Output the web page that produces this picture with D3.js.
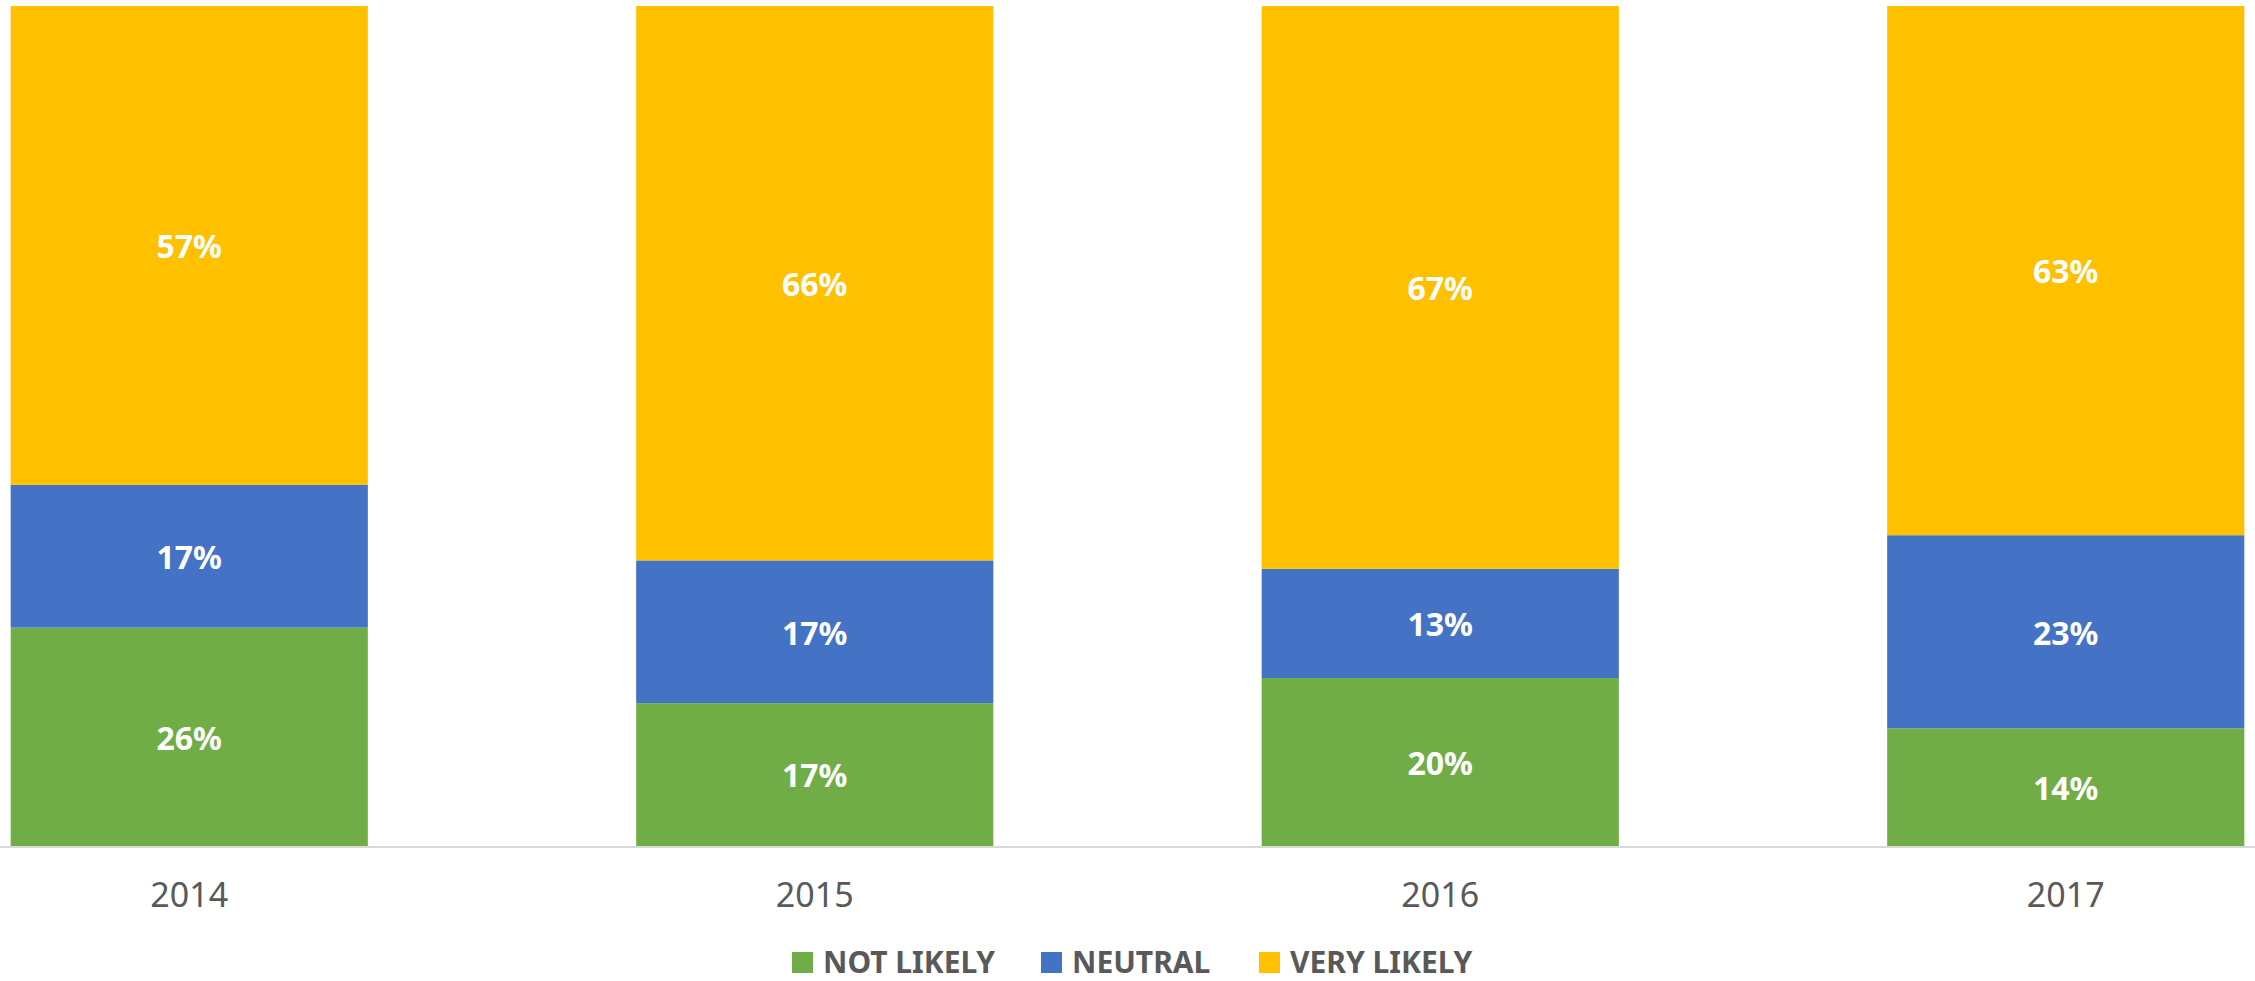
<!DOCTYPE html>
<html>
<head>
<meta charset="utf-8">
<script src="https://cdn.jsdelivr.net/npm/d3@7"></script>
<style>
  body { margin: 0; background: #fff; }
  svg { display: block; font-family: 'Noto Sans', sans-serif; }
</style>
</head>
<body>
<script>
var years = ['2014', '2015', '2016', '2017']
var seriesNames = ['NOT LIKELY', 'NEUTRAL', 'VERY LIKELY']
var notLikely = [26, 17, 20, 14]
var neutral = [17, 17, 13, 23]
var veryLikely = [57, 66, 67, 63]
var colors = ['#70AD47', '#4472C4', '#FFC000']

var width = 2255, height = 981

var rows = years.map(function(y, i){
  return {year: y, 'NOT LIKELY': notLikely[i], 'NEUTRAL': neutral[i], 'VERY LIKELY': veryLikely[i]}
})
var stacked = d3.stack().keys(seriesNames)(rows)

var svg = d3.select('body').append('svg')
  .attr('width', width).attr('height', height)

// band layout like excel: half gap on the outside of each category
var gap = 0.429
var x = d3.scaleBand().domain(years)
  .range([-123.5, 2378.5])
  .paddingInner(gap).paddingOuter(gap / 2)
var y = d3.scaleLinear().domain([0, 100]).range([846, 6])

var layers = svg.append('g').selectAll('g')
  .data(stacked).join('g')
    .attr('fill', function(d, i){ return colors[i] })

layers.selectAll('rect')
  .data(function(d){ return d }).join('rect')
    .attr('x', function(d){ return x(d.data.year) })
    .attr('width', x.bandwidth())
    .attr('y', function(d){ return y(d[1]) })
    .attr('height', function(d){ return y(d[0]) - y(d[1]) })

layers.selectAll('text')
  .data(function(d){ return d }).join('text')
    .attr('x', function(d){ return x(d.data.year) + x.bandwidth() / 2 })
    .attr('y', function(d){ return (y(d[0]) + y(d[1])) / 2 })
    .attr('dy', '0.4em')
    .attr('text-anchor', 'middle')
    .style('fill', '#fff')
    .style('font-weight', 'bold')
    .style('font-size', '32px')
    .text(function(d){ return (d[1] - d[0]) + '%' })

// baseline
svg.append('line')
  .attr('x1', 0).attr('x2', width)
  .attr('y1', y(0) + 1).attr('y2', y(0) + 1)
  .style('stroke', '#d9d9d9').style('stroke-width', 2)

svg.append('g').selectAll('text')
  .data(years).join('text')
    .attr('x', function(d){ return x(d) + x.bandwidth() / 2 })
    .attr('y', 907)
    .attr('text-anchor', 'middle')
    .style('fill', '#595959')
    .style('font-size', '34px')
    .text(function(d){ return d })

// legend
var legendX = [792, 1041, 1259]
var legend = svg.append('g').selectAll('g')
  .data(seriesNames).join('g')
    .attr('transform', function(d, i){ return 'translate(' + legendX[i] + ',952)' })
legend.append('rect')
  .attr('width', 21).attr('height', 21)
  .attr('fill', function(d, i){ return colors[i] })
legend.append('text')
  .attr('x', 31).attr('y', 20.5)
  .style('fill', '#595959')
  .style('font-weight', 'bold')
  .style('font-size', '30px')
  .text(function(d){ return d })
</script>
</body>
</html>
